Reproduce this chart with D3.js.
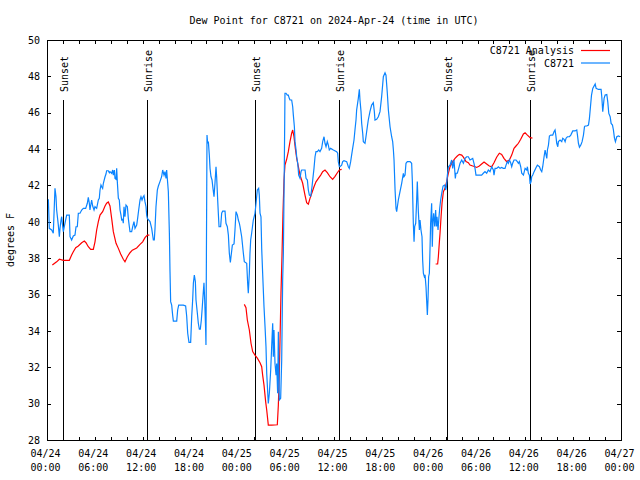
<!DOCTYPE html>
<html>
<head>
<meta charset="utf-8">
<script src="https://cdn.jsdelivr.net/npm/d3@7"></script>
<style>
  html, body { margin: 0; padding: 0; background: #fff; }
  svg text { font-family: "DejaVu Sans Mono", "Liberation Mono", monospace; font-size: 10px; fill: #000; }
</style>
</head>
<body>
<svg id="chart" width="640" height="480"></svg>
<script>
// ---------- data (hours since 2024-04-24 00:00 UTC) ----------
const obsHours = [0.17,0.29,0.59,0.79,1.0,1.13,1.21,1.42,1.55,1.63,1.76,1.84,1.97,2.05,2.17,2.38,2.47,2.8,2.89,3.09,3.3,3.51,3.64,3.8,3.93,4.14,4.35,4.56,4.85,5.06,5.18,5.31,5.39,5.6,5.73,5.9,6.02,6.23,6.44,6.56,6.65,6.77,6.86,6.98,7.07,7.28,7.4,7.48,7.69,7.82,7.9,8.11,8.24,8.32,8.45,8.53,8.66,8.74,8.82,8.95,9.07,9.16,9.28,9.37,9.49,9.57,9.66,9.78,9.91,10.08,10.2,10.33,10.41,10.62,10.75,10.91,11.04,11.25,11.37,11.5,11.67,11.79,11.92,12.04,12.17,12.29,12.42,12.5,12.59,12.92,13.13,13.34,13.46,13.55,13.67,13.84,13.97,14.17,14.38,14.51,14.68,14.8,14.93,15.01,15.14,15.22,15.35,15.43,15.51,15.64,15.76,15.85,16.27,16.39,16.52,17.1,17.39,17.52,17.65,17.81,18.02,18.15,18.27,18.36,18.48,18.61,18.69,18.86,18.98,19.11,19.23,19.36,19.48,19.61,19.69,19.78,19.9,19.94,20.07,20.15,20.24,20.36,20.45,20.57,20.7,20.82,20.95,21.07,21.2,21.28,21.41,21.49,21.58,21.78,21.91,22.04,22.33,22.45,22.62,22.75,22.87,23.0,23.08,23.25,23.46,23.58,23.71,23.88,24.0,24.13,24.21,24.42,24.63,24.75,25.05,25.17,25.25,25.38,25.46,25.55,25.67,25.88,26.09,26.22,26.38,26.55,26.63,26.72,26.84,26.93,27.05,27.22,27.35,27.47,27.56,27.68,27.76,27.89,28.06,28.18,28.31,28.39,28.47,28.6,28.73,28.81,28.93,29.02,29.14,29.31,29.44,29.56,29.65,29.77,29.85,29.98,30.14,30.27,30.39,30.48,30.69,30.82,30.9,31.03,31.11,31.24,31.32,31.45,31.57,31.74,31.86,31.95,32.37,32.49,32.66,32.78,32.91,33.08,33.24,33.33,33.49,33.62,33.74,33.91,34.08,34.24,34.45,34.58,34.75,34.87,35.0,35.16,35.29,35.41,35.58,35.92,36.33,36.46,36.54,36.67,36.75,36.96,37.09,37.25,37.59,37.8,37.92,38.09,38.21,38.34,38.51,38.63,38.76,38.84,39.05,39.18,39.26,39.39,39.47,39.6,39.68,39.89,40.01,40.18,40.3,40.51,40.72,40.93,41.06,41.14,41.35,41.56,41.77,41.98,42.19,42.4,42.52,42.69,42.82,43.03,43.23,43.36,43.45,43.53,43.66,43.78,43.86,43.95,44.07,44.28,44.49,44.7,44.78,44.91,45.03,45.2,45.54,45.74,45.83,45.95,46.04,46.12,46.25,46.37,46.45,46.58,46.71,46.79,46.91,47.04,47.12,47.21,47.33,47.42,47.54,47.62,47.71,47.79,47.87,47.96,48.04,48.12,48.25,48.33,48.42,48.5,48.63,48.75,48.84,48.92,49.05,49.17,49.26,49.38,49.51,49.68,49.89,50.01,50.1,50.22,50.35,50.55,50.76,50.89,51.05,51.22,51.3,51.47,51.64,51.81,52.02,52.23,52.44,52.64,52.85,53.06,53.4,53.56,53.69,53.81,54.11,54.52,54.73,54.94,55.15,55.36,55.57,55.78,55.99,56.07,56.2,56.41,56.62,56.83,57.03,57.24,57.45,57.58,57.74,57.87,58.0,58.16,58.29,58.41,58.58,58.83,59.0,59.13,59.25,59.42,59.55,59.76,59.97,60.18,60.26,60.38,60.51,60.6,60.72,60.8,60.93,61.1,61.35,61.51,61.77,61.93,62.06,62.18,62.35,62.48,62.56,62.69,62.77,62.9,63.02,63.19,63.44,63.61,63.73,63.82,63.94,64.07,64.15,64.36,64.57,64.69,64.86,64.99,65.11,65.28,65.53,65.7,65.95,66.24,66.45,66.54,66.66,66.79,66.96,67.12,67.29,67.42,67.5,67.71,67.92,68.04,68.17,68.3,68.46,68.76,68.88,69.17,69.5,69.59,69.71,69.88,70.01,70.22,70.34,70.47,70.64,70.76,70.93,71.05,71.18,71.3,71.47,71.68,71.89];
const obsValues = [41.24,39.64,39.55,39.37,41.84,41.38,40.65,39.82,39.18,39.64,40.1,40.28,39.73,39.46,39.73,40.19,40.37,40.37,39.18,39.0,39.22,39.27,39.73,39.73,40.47,40.47,40.65,40.74,40.74,41.02,41.35,41.02,40.65,41.2,40.87,40.65,40.83,40.74,41.2,41.29,41.75,42.02,41.93,41.84,42.12,42.48,42.63,42.81,42.81,42.7,42.76,42.67,42.85,42.57,42.85,42.39,42.34,42.94,42.21,41.29,41.2,40.65,40.37,40.1,40.14,39.92,40.83,40.28,40.92,40.83,40.19,39.73,39.46,39.46,39.73,40.01,39.64,39.82,40.19,40.65,41.2,41.38,41.2,41.35,41.44,41.11,40.83,40.37,40.19,40.01,39.64,39.0,39.0,39.64,40.83,41.75,41.97,42.21,42.48,42.85,42.57,42.76,42.39,42.85,42.12,41.66,39.37,37.26,35.61,35.42,34.87,34.54,34.54,35.15,35.42,35.42,35.37,34.82,33.87,33.37,33.37,34.78,35.7,36.62,37.07,36.71,35.7,34.97,34.42,34.09,34.09,34.6,35.33,36.16,36.65,35.7,34.05,33.22,44.77,44.32,44.41,43.67,42.94,42.48,42.3,41.84,41.38,42.12,43.03,42.48,41.2,40.47,39.73,39.73,40.47,40.59,40.59,39.92,39.73,39.27,38.27,37.77,38.08,38.72,38.78,39.55,40.56,40.37,40.1,39.92,39.73,39.18,38.27,37.81,37.72,36.62,36.07,37.17,38.27,39.0,39.37,40.1,40.47,41.02,41.75,41.84,41.47,40.47,40.28,38.54,37.17,35.33,34.23,33.13,31.67,30.66,30.01,30.57,31.85,33.13,34.42,32.58,34.05,32.21,31.57,32.21,30.57,33.96,30.2,30.29,32.4,36.8,38.27,43.12,47.07,47.07,46.97,46.97,46.79,46.7,46.7,46.33,45.87,45.23,44.41,43.95,43.58,43.22,42.57,42.39,42.76,42.85,42.85,42.39,42.3,41.75,41.47,41.42,41.93,42.3,42.94,43.58,43.86,43.86,43.95,43.86,44.04,44.41,44.68,44.32,44.13,44.41,44.22,43.95,44.04,43.95,43.86,43.77,43.31,43.03,43.03,43.12,43.31,43.36,43.31,43.03,42.94,43.31,43.67,44.04,44.5,45.05,45.6,46.15,46.79,47.29,46.7,46.06,45.42,44.87,44.41,44.32,44.68,45.23,45.6,46.06,46.42,46.55,46.06,45.6,45.64,45.78,46.06,46.9,47.98,48.2,48.07,47.07,46.15,45.23,44.68,44.41,43.95,43.4,41.75,40.74,40.56,40.83,41.2,41.66,42.12,42.67,42.48,42.57,43.22,43.31,43.31,43.22,42.21,39.92,38.91,39.74,39.92,41.2,42.21,40.56,39.55,40.1,39.55,39.18,37.9,37.17,36.98,37.08,36.43,35.7,34.87,35.7,36.98,37.17,38.45,39.92,41.02,38.63,40.1,40.47,39.74,40.65,39.74,40.28,39.55,40.28,40.74,41.2,41.57,41.97,42.03,41.75,41.93,42.57,43.03,43.12,43.4,42.94,43.4,42.39,42.67,42.67,42.94,43.22,43.4,43.22,43.49,43.58,43.58,43.4,43.49,43.22,42.94,42.57,42.57,42.57,42.67,42.76,42.67,42.85,42.76,43.03,42.85,42.57,42.94,42.94,43.03,42.94,42.99,42.94,42.94,43.12,43.31,43.22,43.4,43.25,43.03,43.22,43.4,43.4,43.31,43.22,43.31,43.03,42.67,42.57,42.94,42.85,43.03,42.67,42.57,42.08,42.21,42.48,42.57,42.76,42.99,43.12,43.03,42.85,42.76,43.03,43.58,43.95,43.77,43.49,43.95,44.22,44.72,44.77,44.77,44.96,45.05,44.77,44.32,44.13,44.41,44.5,44.41,44.6,44.54,44.41,44.6,44.68,44.68,44.77,45.0,45.0,45.05,44.77,44.32,44.1,44.22,44.41,44.77,45.23,45.27,45.27,45.32,45.69,46.33,46.97,47.34,47.58,47.34,47.28,47.28,46.88,46.06,46.79,46.97,47.0,46.6,45.96,45.78,45.41,45.32,45.05,44.6,44.41,44.68,44.72,44.68];

// Analysis series; null marks a gap in the record
const anaHours = [0.67,1.21,1.55,2.05,2.8,3.09,3.3,3.6,3.93,4.35,4.68,4.89,5.18,5.48,5.81,6.02,6.23,6.44,6.65,6.98,7.28,7.48,7.69,7.9,8.11,8.32,8.66,8.95,9.24,9.57,9.78,10.08,10.41,10.7,11.25,11.67,12.0,12.29,12.59,12.84,
  18.0,
  24.75,24.96,25.13,25.38,25.59,25.8,26.09,26.38,26.72,26.93,27.05,27.22,27.43,27.56,27.76,28.18,28.89,29.02,29.14,29.23,29.35,29.48,29.6,29.73,29.85,30.06,30.27,30.48,30.69,30.82,30.98,31.15,31.32,31.53,31.74,32.07,32.36,32.57,32.78,32.99,33.2,33.49,33.74,34.04,34.33,34.58,34.87,35.16,35.5,35.83,36.13,36.42,36.67,36.96,
  42.0,
  48.75,49.0,49.09,49.22,49.3,49.43,49.55,49.72,49.93,50.13,50.34,50.55,50.89,51.18,51.47,51.72,52.02,52.23,52.56,52.85,53.06,53.4,53.69,53.9,54.23,54.52,54.82,55.15,55.48,55.78,56.07,56.4,56.74,57.03,57.32,57.66,58.0,58.29,58.58,58.83,59.13,59.42,59.76,59.97,60.26,60.6,60.89];
const anaValues = [37.62,37.8,37.94,37.88,37.88,38.17,38.35,38.58,38.67,38.85,38.94,38.85,38.63,38.48,38.48,38.9,39.55,40.01,40.37,40.56,40.87,41.02,41.09,40.87,40.19,39.46,38.82,38.54,38.23,37.94,37.8,38.08,38.3,38.44,38.56,38.76,38.9,39.13,39.27,39.27,
  null,
  35.46,35.28,34.6,34.05,33.32,32.86,32.67,32.5,32.25,32.03,31.57,31.02,30.1,29.65,28.82,28.82,28.84,29.92,31.67,33.5,36.07,38.17,40.47,42.3,43.12,43.44,43.86,44.41,44.87,45.05,44.68,44.04,43.49,43.03,42.57,42.12,41.47,41.05,40.97,41.29,41.56,41.93,42.2,42.39,42.57,42.76,42.85,42.7,42.48,42.33,42.5,42.7,42.85,42.88,
  null,
  37.68,37.68,38.08,38.91,39.37,40.28,41.02,41.66,41.84,42.21,42.67,43.03,43.31,43.49,43.62,43.71,43.67,43.56,43.31,43.25,43.12,43.07,43.03,42.99,43.07,43.18,43.29,43.18,43.07,43.03,43.25,43.55,43.77,43.71,43.49,43.31,43.4,43.67,44.04,44.17,44.32,44.54,44.83,44.9,44.77,44.63,44.6];

const sunsetHours = [2.05, 26.09, 50.21];
const sunriseHours = [12.59, 36.67, 60.63];

const yTicks = [28,30,32,34,36,38,40,42,44,46,48,50];
const xMinorTickHours = d3.range(0, 73, 2);
const xLabelHours = [0,6,12,18,24,30,36,42,48,54,60,66,72];
const xLabelDates = ["04/24","04/24","04/24","04/24","04/25","04/25","04/25","04/25","04/26","04/26","04/26","04/26","04/27"];
const xLabelTimes = ["00:00","06:00","12:00","18:00","00:00","06:00","12:00","18:00","00:00","06:00","12:00","18:00","00:00"];

const titleText = "Dew Point for C8721 on 2024-Apr-24 (time in UTC)";
const yLabelText = "degrees F";
const seriesNames = ["C8721 Analysis", "C8721"];
const seriesColors = ["#ff0000", "#0a84ff"];

// ---------- drawing ----------
const L = 47, R = 621, T = 40, B = 440;
const svg = d3.select("#chart");
const x = d3.scaleLinear().domain([0, 72]).range([L, R]);
const y = d3.scaleLinear().domain([28, 50]).range([B, T]);

// title
svg.append("text").attr("x", 334).attr("y", 23.5).attr("text-anchor", "middle").text(titleText);

// y label
svg.append("text").attr("transform", "translate(14,240) rotate(-90)")
  .attr("text-anchor", "middle").text(yLabelText);

// axes (ticks inward, mirrored)
const gB = svg.append("g").attr("transform", `translate(0,${B})`)
  .call(d3.axisBottom(x).tickValues(xMinorTickHours).tickSize(-3.5).tickSizeOuter(0).tickFormat(""));
const gT = svg.append("g").attr("transform", `translate(0,${T})`)
  .call(d3.axisTop(x).tickValues(xMinorTickHours).tickSize(-3.5).tickSizeOuter(0).tickFormat(""));
const gL = svg.append("g").attr("transform", `translate(${L},0)`)
  .call(d3.axisLeft(y).tickValues(yTicks).tickSize(-4).tickSizeOuter(0).tickPadding(7).tickFormat(d3.format("d")));
const gR = svg.append("g").attr("transform", `translate(${R},0)`)
  .call(d3.axisRight(y).tickValues(yTicks).tickSize(-4).tickSizeOuter(0).tickFormat(""));
[gB, gT, gL, gR].forEach(g => {
  g.select(".domain").remove();
  g.selectAll("line").attr("stroke", "#000").attr("shape-rendering", "crispEdges");
  g.selectAll("text").attr("font-family", null).attr("font-size", null);
});

// x labels (two lines)
const xl = svg.append("g");
xLabelHours.forEach((h, i) => {
  xl.append("text").attr("x", x(h) - 1.5).attr("y", 457).attr("text-anchor", "middle").text(xLabelDates[i]);
  xl.append("text").attr("x", x(h) - 1.5).attr("y", 471).attr("text-anchor", "middle").text(xLabelTimes[i]);
});

// sunset / sunrise markers
const events = sunsetHours.map(h => ({h, name: "Sunset"}))
  .concat(sunriseHours.map(h => ({h, name: "Sunrise"})));
const ev = svg.append("g");
events.forEach(e => {
  const px = Math.round(x(e.h)) + 0.5;
  ev.append("line").attr("x1", px).attr("x2", px).attr("y1", 100).attr("y2", B)
    .attr("stroke", "#000").attr("stroke-width", 1);
  ev.append("text").attr("transform", `translate(${px + 4},92) rotate(-90)`)
    .attr("text-anchor", "start").text(e.name);
});

// data lines
const obs = obsHours.map((h, i) => ({h, v: obsValues[i]}));
const ana = anaHours.map((h, i) => ({h, v: anaValues[i]}));
const line = d3.line().defined(d => d.v !== null).x(d => x(d.h)).y(d => y(d.v));

svg.append("path").datum(ana).attr("d", line)
  .attr("fill", "none").attr("stroke", seriesColors[0]).attr("stroke-width", 1.2);
svg.append("path").datum(obs).attr("d", line)
  .attr("fill", "none").attr("stroke", seriesColors[1]).attr("stroke-width", 1.2);

// border
svg.append("rect").attr("x", L + 0.5).attr("y", T + 0.5).attr("width", R - L).attr("height", B - T)
  .attr("fill", "none").attr("stroke", "#000").attr("shape-rendering", "crispEdges");

// legend
const lg = svg.append("g");
seriesNames.forEach((name, i) => {
  const ly = 50.5 + i * 12.5;
  lg.append("text").attr("x", 574).attr("y", ly + 3.5).attr("text-anchor", "end").text(name);
  lg.append("line").attr("x1", 581).attr("x2", 610).attr("y1", ly).attr("y2", ly)
    .attr("stroke", seriesColors[i]).attr("stroke-width", 1.2);
});
</script>
</body>
</html>
